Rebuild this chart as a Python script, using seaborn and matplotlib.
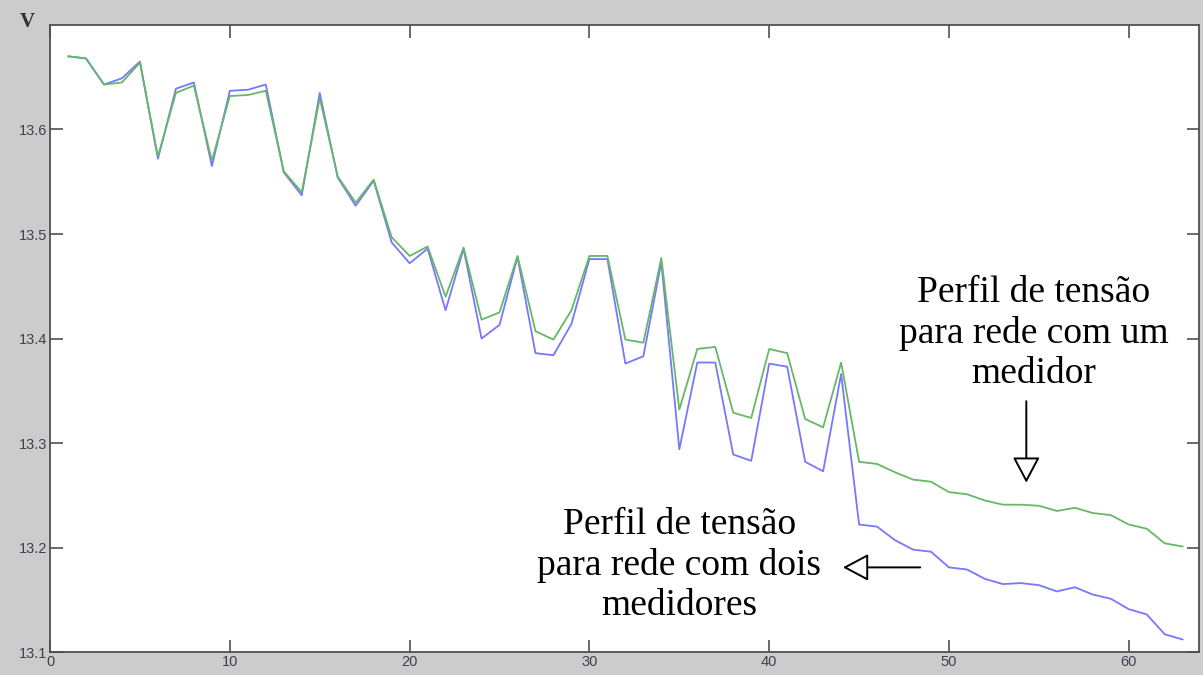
import numpy as np
import pandas as pd
import seaborn as sns
import matplotlib.pyplot as plt

# bus index along the feeder
barra = list(range(1, 64))

# voltage profile, network with one meter (green)
v_um = [13.670, 13.668, 13.643, 13.645, 13.664, 13.574, 13.635, 13.642, 13.570, 13.632,
        13.633, 13.637, 13.560, 13.540, 13.630, 13.555, 13.530, 13.552, 13.497, 13.479,
        13.488, 13.440, 13.487, 13.418, 13.425, 13.479, 13.407, 13.399, 13.427, 13.479,
        13.479, 13.399, 13.396, 13.477, 13.332, 13.390, 13.392, 13.329, 13.324, 13.390,
        13.386, 13.323, 13.315, 13.377, 13.282, 13.280, 13.272, 13.265, 13.263, 13.253,
        13.251, 13.245, 13.241, 13.241, 13.240, 13.235, 13.238, 13.233, 13.231, 13.222,
        13.218, 13.204, 13.201]

# voltage profile, network with two meters (blue)
v_dois = [13.670, 13.668, 13.643, 13.649, 13.665, 13.572, 13.639, 13.645, 13.565, 13.637,
          13.638, 13.643, 13.559, 13.537, 13.635, 13.554, 13.527, 13.551, 13.492, 13.472,
          13.486, 13.427, 13.486, 13.400, 13.413, 13.478, 13.386, 13.384, 13.414, 13.476,
          13.476, 13.376, 13.383, 13.473, 13.294, 13.377, 13.377, 13.289, 13.283, 13.376,
          13.373, 13.282, 13.273, 13.366, 13.222, 13.220, 13.207, 13.198, 13.196, 13.181,
          13.179, 13.170, 13.165, 13.166, 13.164, 13.158, 13.162, 13.155, 13.151, 13.141,
          13.136, 13.117, 13.112]

xticks = [0, 10, 20, 30, 40, 50, 60]
yticks = [13.1, 13.2, 13.3, 13.4, 13.5, 13.6]

df = pd.DataFrame({'barra': barra, 'um': v_um, 'dois': v_dois})

sns.set_style("ticks")
plt.rcParams['font.family'] = ['Liberation Sans', 'DejaVu Sans']

fig = plt.figure(figsize=(12.03, 6.75), dpi=100, facecolor='#cccccc')
ax = fig.add_axes([0.0416, 0.034, 0.955, 0.929])
ax.set_facecolor('white')

sns.lineplot(data=df, x='barra', y='dois', ax=ax, color='#7777ff', lw=1.3)
sns.lineplot(data=df, x='barra', y='um', ax=ax, color='#66b866', lw=1.3)

ax.set_xlim(0, 63.9)
ax.set_ylim(13.1, 13.7)
ax.set_xticks(xticks)
ax.set_yticks(yticks)
ax.set_yticklabels([f'{t:.1f}' for t in yticks])
ax.set_xlabel('')
ax.set_ylabel('')
ax.tick_params(direction='in', length=9, width=1.2, color='#505050',
               labelsize=10.5, labelcolor='#404050', top=True, right=True, pad=2)
for s in ax.spines.values():
    s.set_color('#505050')
    s.set_linewidth(1.3)

fig.text(0.023, 0.968, 'V', family='Liberation Serif', fontsize=15,
         fontweight='bold', color='#303030', ha='center', va='center')

serif = dict(family='Liberation Serif', fontsize=27, ha='center', va='center',
             linespacing=1.2, color='black')
ax.text(54.7, 13.405, 'Perfil de tensão\npara rede com um\nmedidor', **serif)
ax.text(35.0, 13.183, 'Perfil de tensão\npara rede com dois\nmedidores', **serif)

arrow = dict(arrowstyle='-|>,head_length=1.6,head_width=0.85', fc='white',
             ec='black', lw=1.4, shrinkA=0, shrinkB=0)
ax.annotate('', xy=(54.3, 13.262), xytext=(54.3, 13.340), arrowprops=arrow)
ax.annotate('', xy=(44.1, 13.181), xytext=(48.4, 13.181), arrowprops=arrow)

plt.savefig('out.png', dpi=100, facecolor=fig.get_facecolor())
